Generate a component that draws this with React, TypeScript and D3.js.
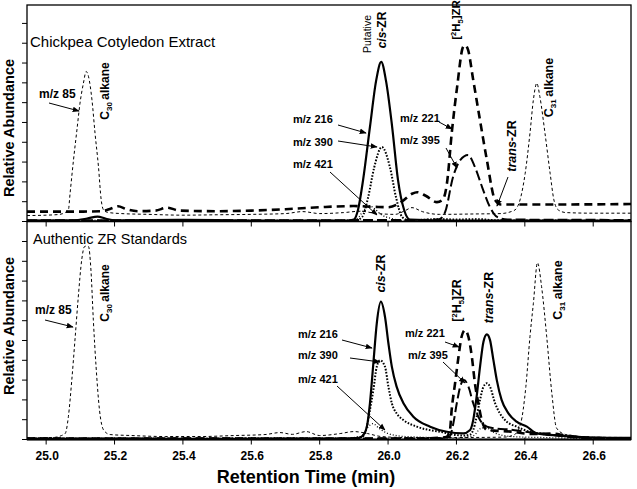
import React from 'react';
import * as d3 from 'd3';

type Pt = [number, number];

// ---- Data (retention time in min, relative abundance in tick units) ----
const xTicks: number[] = [25.0, 25.2, 25.4, 25.6, 25.8, 26.0, 26.2, 26.4, 26.6];
const yTicks: number[] = [0, 1, 2, 3, 4, 5, 6, 7, 8, 9, 10];

// Top panel: Chickpea Cotyledon Extract
const top85: Pt[] = [[24.944,0.30],[25.0,0.32],[25.04,0.36],[25.055,0.45],[25.065,0.58],[25.07,1.42],[25.08,3.11],[25.09,4.62],[25.099,5.97],[25.109,6.98],[25.117,7.57],[25.124,7.31],[25.134,6.14],[25.143,4.45],[25.153,2.77],[25.161,1.09],[25.168,0.58],[25.18,0.46],[25.22,0.4],[25.3,0.36],[25.4,0.32],[25.5,0.34],[25.6,0.36],[25.7,0.4],[25.75,0.5],[25.8,0.4],[25.87,0.45],[25.92,0.52],[25.96,0.42],[26.02,0.36],[26.05,0.55],[26.07,0.7],[26.1,0.5],[26.15,0.36],[26.25,0.38],[26.33,0.4],[26.36,0.5],[26.371,0.58],[26.386,1.09],[26.401,2.43],[26.415,4.45],[26.425,6.14],[26.435,6.98],[26.444,6.3],[26.459,4.45],[26.474,2.43],[26.485,1.09],[26.498,0.58],[26.52,0.45],[26.6,0.42],[26.711,0.42]];
const top221: Pt[] = [[24.944,0.5],[25.1,0.5],[25.16,0.52],[25.19,0.66],[25.21,0.77],[25.235,0.62],[25.27,0.52],[25.32,0.55],[25.354,0.7],[25.39,0.55],[25.5,0.52],[25.6,0.55],[25.7,0.62],[25.8,0.72],[25.9,0.78],[25.96,0.74],[26.0,0.72],[26.04,1.0],[26.07,1.4],[26.085,1.48],[26.11,1.3],[26.143,0.98],[26.16,1.1],[26.172,1.9],[26.187,4.6],[26.202,6.8],[26.219,8.8],[26.225,8.9],[26.234,8.66],[26.249,7.15],[26.269,5.1],[26.289,3.1],[26.313,1.08],[26.33,0.86],[26.5,0.86],[26.711,0.88]];
const top216: Pt[] = [[24.944,0.05],[25.08,0.06],[25.12,0.15],[25.15,0.25],[25.175,0.14],[25.2,0.06],[25.4,0.08],[25.6,0.05],[25.88,0.05],[25.9,0.1],[25.912,0.58],[25.927,2.1],[25.947,4.77],[25.965,7.1],[25.98,8.06],[25.994,7.1],[26.012,4.77],[26.029,2.1],[26.047,0.58],[26.064,0.1],[26.2,0.05],[26.711,0.05]];
const top390: Pt[] = [[24.944,0.04],[25.85,0.04],[25.905,0.06],[25.924,0.23],[25.942,1.24],[25.959,2.7],[25.982,3.76],[26.006,2.7],[26.023,1.24],[26.041,0.23],[26.06,0.06],[26.15,0.12],[26.2,0.1],[26.26,0.12],[26.32,0.06],[26.711,0.04]];
const top395: Pt[] = [[24.944,0.06],[25.5,0.06],[26.1,0.08],[26.15,0.12],[26.167,0.48],[26.19,2.25],[26.211,3.1],[26.234,3.36],[26.254,2.75],[26.275,1.74],[26.298,0.73],[26.319,0.23],[26.35,0.1],[26.711,0.08]];
const top421: Pt[] = [[24.944,0.03],[25.88,0.03],[25.91,0.15],[25.93,0.6],[25.945,0.8],[25.96,0.65],[25.98,0.35],[26.01,0.15],[26.05,0.05],[26.711,0.03]];

// Bottom panel: Authentic ZR Standards
const bot85: Pt[] = [[24.944,0.08],[25.02,0.1],[25.045,0.2],[25.056,0.31],[25.065,1.15],[25.075,3.0],[25.085,5.19],[25.094,7.2],[25.104,9.07],[25.112,9.74],[25.117,9.77],[25.124,9.74],[25.131,8.56],[25.138,6.04],[25.146,3.68],[25.156,1.49],[25.168,0.48],[25.187,0.25],[25.25,0.2],[25.35,0.15],[25.45,0.15],[25.55,0.2],[25.64,0.25],[25.684,0.35],[25.72,0.26],[25.76,0.4],[25.8,0.2],[25.86,0.3],[25.9,0.4],[25.94,0.3],[25.98,0.15],[26.05,0.1],[26.2,0.1],[26.34,0.12],[26.37,0.25],[26.388,0.82],[26.403,2.67],[26.415,5.19],[26.425,6.88],[26.437,8.93],[26.449,7.72],[26.464,5.19],[26.479,2.33],[26.493,0.57],[26.52,0.25],[26.6,0.12],[26.711,0.1]];
const bot216: Pt[] = [[24.944,0.03],[25.85,0.03],[25.915,0.08],[25.928,0.23],[25.938,0.65],[25.947,1.83],[25.957,3.85],[25.967,5.87],[25.979,6.96],[25.991,6.2],[26.001,4.86],[26.011,3.68],[26.025,2.67],[26.045,1.83],[26.074,1.15],[26.123,0.65],[26.172,0.39],[26.22,0.31],[26.24,0.48],[26.249,0.98],[26.259,2.16],[26.269,3.68],[26.279,4.94],[26.289,5.31],[26.298,5.03],[26.308,4.02],[26.318,3.0],[26.332,2.0],[26.352,1.32],[26.376,0.9],[26.406,0.65],[26.435,0.31],[26.5,0.2],[26.6,0.1],[26.711,0.08]];
const bot390: Pt[] = [[24.944,0.04],[25.88,0.05],[25.925,0.15],[25.938,0.65],[25.947,1.49],[25.957,2.5],[25.967,3.68],[25.977,4.0],[25.991,3.68],[26.001,2.67],[26.011,1.83],[26.025,1.32],[26.045,0.98],[26.084,0.65],[26.152,0.39],[26.22,0.2],[26.24,0.25],[26.249,0.48],[26.259,1.15],[26.269,2.0],[26.279,2.67],[26.289,2.84],[26.298,2.67],[26.313,1.83],[26.327,1.32],[26.347,0.9],[26.376,0.65],[26.415,0.39],[26.5,0.2],[26.6,0.08],[26.711,0.05]];
const bot221: Pt[] = [[24.944,0.05],[26.1,0.05],[26.17,0.12],[26.181,0.48],[26.186,1.49],[26.196,2.84],[26.206,4.18],[26.215,5.19],[26.225,5.53],[26.235,5.19],[26.245,4.18],[26.254,2.84],[26.264,1.83],[26.274,0.98],[26.289,0.48],[26.31,0.45],[26.36,0.4],[26.42,0.28],[26.48,0.3],[26.52,0.2],[26.6,0.08],[26.711,0.05]];
const bot395: Pt[] = [[24.944,0.05],[26.15,0.05],[26.18,0.15],[26.191,0.82],[26.201,1.83],[26.211,2.67],[26.222,3.0],[26.235,2.67],[26.249,1.83],[26.269,0.98],[26.289,0.65],[26.318,0.55],[26.36,0.5],[26.4,0.4],[26.45,0.3],[26.52,0.15],[26.6,0.06],[26.711,0.05]];
const bot421: Pt[] = [[24.944,0.03],[25.85,0.04],[25.92,0.15],[25.94,0.6],[25.955,0.8],[25.975,0.55],[26.0,0.3],[26.05,0.15],[26.2,0.08],[26.25,0.2],[26.27,0.55],[26.285,0.6],[26.31,0.35],[26.36,0.15],[26.45,0.1],[26.711,0.03]];

// ---- Layout / styles ----
const W = 637, H = 489;
const L = 27, R = 631;
const TOP0 = 5, MID = 221.5, BOT = 439.5;
const FONT = "'Liberation Sans', Arial, Helvetica, sans-serif";

const styles: Record<string, { w: number; dash?: string }> = {
  '85': { w: 1, dash: '3,2.5' },
  '221': { w: 2.6, dash: '8,5' },
  '216': { w: 2.2 },
  '390': { w: 2, dash: '1.6,1.6' },
  '395': { w: 2, dash: '10,4' },
  '421': { w: 1.3, dash: '1,2' },
};

const x = d3.scaleLinear().domain([24.944, 26.7105]).range([L, R]);
const yTop = d3.scaleLinear().domain([0, 10.93]).range([MID, TOP0]);
const yBot = d3.scaleLinear().domain([0, 11.01]).range([BOT, MID]);

function Series({ data, y, k, clip }: { data: Pt[]; y: d3.ScaleLinear<number, number>; k: string; clip: string }) {
  const line = d3.line<Pt>().x(d => x(d[0])).y(d => y(d[1])).curve(d3.curveMonotoneX);
  const s = styles[k];
  return <path d={line(data) || ''} fill="none" stroke="#000" strokeWidth={s.w} strokeDasharray={s.dash} clipPath={`url(#${clip})`} strokeLinejoin="round" />;
}

function Arrow({ x1, y1, x2, y2 }: { x1: number; y1: number; x2: number; y2: number }) {
  return <line x1={x1} y1={y1} x2={x2} y2={y2} stroke="#000" strokeWidth={1} markerEnd="url(#ah)" />;
}

function MZ({ x: px, y: py, t, size = 11 }: { x: number; y: number; t: string; size?: number }) {
  return <text x={px} y={py} fontSize={size} fontWeight="bold" fontFamily={FONT}>{t}</text>;
}

function VText({ x: px, y: py, size = 12, children, bold = true }: any) {
  return (
    <text transform={`translate(${px},${py}) rotate(-90)`} textAnchor="middle" fontSize={size} fontWeight={bold ? 'bold' : 'normal'} fontFamily={FONT}>
      {children}
    </text>
  );
}

const Alkane = ({ n }: { n: string }) => (
  <>
    <tspan>C</tspan>
    <tspan dy={3} fontSize={8}>{n}</tspan>
    <tspan dy={-3}>{'\u2009alkane'}</tspan>
  </>
);
const Deut = () => (
  <>
    <tspan>[</tspan>
    <tspan dy={-4} fontSize={7.5}>2</tspan>
    <tspan dy={4}>H</tspan>
    <tspan dy={3} fontSize={7.5}>5</tspan>
    <tspan dy={-3}>]ZR</tspan>
  </>
);
const Cis = () => (<><tspan fontStyle="italic">cis</tspan><tspan>-ZR</tspan></>);
const Trans = () => (<><tspan fontStyle="italic">trans</tspan><tspan>-ZR</tspan></>);

export default function App() {
  return (
    <svg width={W} height={H} style={{ position: 'absolute', left: 0, top: 0, background: '#fff' }} fontFamily={FONT}>
      <defs>
        <clipPath id="cTop"><rect x={L} y={TOP0} width={R - L} height={MID - TOP0} /></clipPath>
        <clipPath id="cBot"><rect x={L} y={MID} width={R - L} height={BOT - MID} /></clipPath>
        <marker id="ah" viewBox="0 0 10 10" refX={9} refY={5} markerWidth={7} markerHeight={7} orient="auto" markerUnits="userSpaceOnUse">
          <path d="M0,1 L10,5 L0,9 Z" fill="#000" />
        </marker>
      </defs>
      <rect x={0} y={0} width={W} height={H} fill="#fff" />

      {/* series */}
      <Series data={top85} y={yTop} k="85" clip="cTop" />
      <Series data={top421} y={yTop} k="421" clip="cTop" />
      <Series data={top390} y={yTop} k="390" clip="cTop" />
      <Series data={top395} y={yTop} k="395" clip="cTop" />
      <Series data={top221} y={yTop} k="221" clip="cTop" />
      <Series data={top216} y={yTop} k="216" clip="cTop" />

      <Series data={bot85} y={yBot} k="85" clip="cBot" />
      <Series data={bot421} y={yBot} k="421" clip="cBot" />
      <Series data={bot390} y={yBot} k="390" clip="cBot" />
      <Series data={bot395} y={yBot} k="395" clip="cBot" />
      <Series data={bot221} y={yBot} k="221" clip="cBot" />
      <Series data={bot216} y={yBot} k="216" clip="cBot" />

      {/* frames */}
      <rect x={L} y={TOP0} width={R - L} height={MID - TOP0} fill="none" stroke="#000" strokeWidth={1.3} />
      <rect x={L} y={MID} width={R - L} height={BOT - MID} fill="none" stroke="#000" strokeWidth={1.3} />
      <line x1={L} x2={R} y1={BOT} y2={BOT} stroke="#000" strokeWidth={1.8} />

      {/* y ticks */}
      {yTicks.map(v => <line key={'t' + v} x1={L - 5} x2={L} y1={yTop(v)} y2={yTop(v)} stroke="#000" strokeWidth={1} />)}
      {yTicks.map(v => <line key={'b' + v} x1={L - 5} x2={L} y1={yBot(v)} y2={yBot(v)} stroke="#000" strokeWidth={1} />)}

      {/* x ticks */}
      {xTicks.map(t => <line key={'xm' + t} x1={x(t)} x2={x(t)} y1={MID} y2={MID + 5} stroke="#000" strokeWidth={1} />)}
      {xTicks.map(t => <line key={'xb' + t} x1={x(t)} x2={x(t)} y1={BOT - 2} y2={BOT + 5} stroke="#000" strokeWidth={1} />)}
      {xTicks.map(t => (
        <text key={'xl' + t} x={x(t) + 1} y={460} textAnchor="middle" fontSize={12} fontWeight="bold">{t.toFixed(1)}</text>
      ))}

      <text x={306} y={483} textAnchor="middle" fontSize={18} fontWeight="bold">Retention Time (min)</text>
      <text transform="translate(14,128) rotate(-90)" textAnchor="middle" fontSize={14.5} fontWeight="bold">Relative Abundance</text>
      <text transform="translate(14,326) rotate(-90)" textAnchor="middle" fontSize={14.5} fontWeight="bold">Relative Abundance</text>

      <text x={30} y={46.5} fontSize={15}>Chickpea Cotyledon Extract</text>
      <text x={33} y={243.5} fontSize={14.5}>Authentic ZR Standards</text>

      {/* top annotations */}
      <MZ x={39} y={98} t="m/z 85" size={12} />
      <Arrow x1={49} y1={103} x2={79} y2={111} />
      <VText x={108.5} y={91}><Alkane n="30" /></VText>
      <VText x={371} y={34} size={10.5} bold={false}>Putative</VText>
      <VText x={386} y={30} size={12}><Cis /></VText>
      <VText x={459.5} y={20} size={11.5}><Deut /></VText>
      <VText x={515.5} y={146} size={12.5}><Trans /></VText>
      <VText x={552.5} y={87.5} size={12.5}><Alkane n="31" /></VText>
      <MZ x={293} y={123} t="m/z 216" />
      <Arrow x1={338} y1={125} x2={366} y2={133} />
      <MZ x={293} y={146} t="m/z 390" />
      <Arrow x1={338} y1={141} x2={377} y2={147} />
      <MZ x={293} y={168} t="m/z 421" />
      <Arrow x1={330} y1={172} x2={377} y2={215} />
      <MZ x={400} y={122} t="m/z 221" />
      <Arrow x1={439} y1={122} x2={452} y2={129} />
      <MZ x={400} y={144} t="m/z 395" />
      <Arrow x1={446} y1={148} x2={457} y2={168} />
      <Arrow x1={508} y1={177} x2={497} y2={206} />

      {/* bottom annotations */}
      <MZ x={35} y={314} t="m/z 85" size={12} />
      <Arrow x1={45} y1={320} x2={73} y2={327} />
      <VText x={108.5} y={293}><Alkane n="30" /></VText>
      <VText x={384.5} y={273.5} size={12.5}><Cis /></VText>
      <VText x={460.5} y={300.5} size={12.5}><Deut /></VText>
      <VText x={492.5} y={297.5} size={12.5}><Trans /></VText>
      <VText x={561.5} y={290} size={12.5}><Alkane n="31" /></VText>
      <MZ x={298} y={338} t="m/z 216" />
      <Arrow x1={342} y1={340} x2={372} y2={348} />
      <MZ x={298} y={359} t="m/z 390" />
      <Arrow x1={350} y1={358} x2={380} y2={362} />
      <MZ x={298} y={383} t="m/z 421" />
      <Arrow x1={337} y1={386} x2={385} y2={430} />
      <MZ x={405} y={337} t="m/z 221" />
      <Arrow x1={445} y1={342} x2={459} y2={347} />
      <MZ x={408} y={359} t="m/z 395" />
      <Arrow x1={443} y1={362} x2={465} y2={383} />
    </svg>
  );
}
